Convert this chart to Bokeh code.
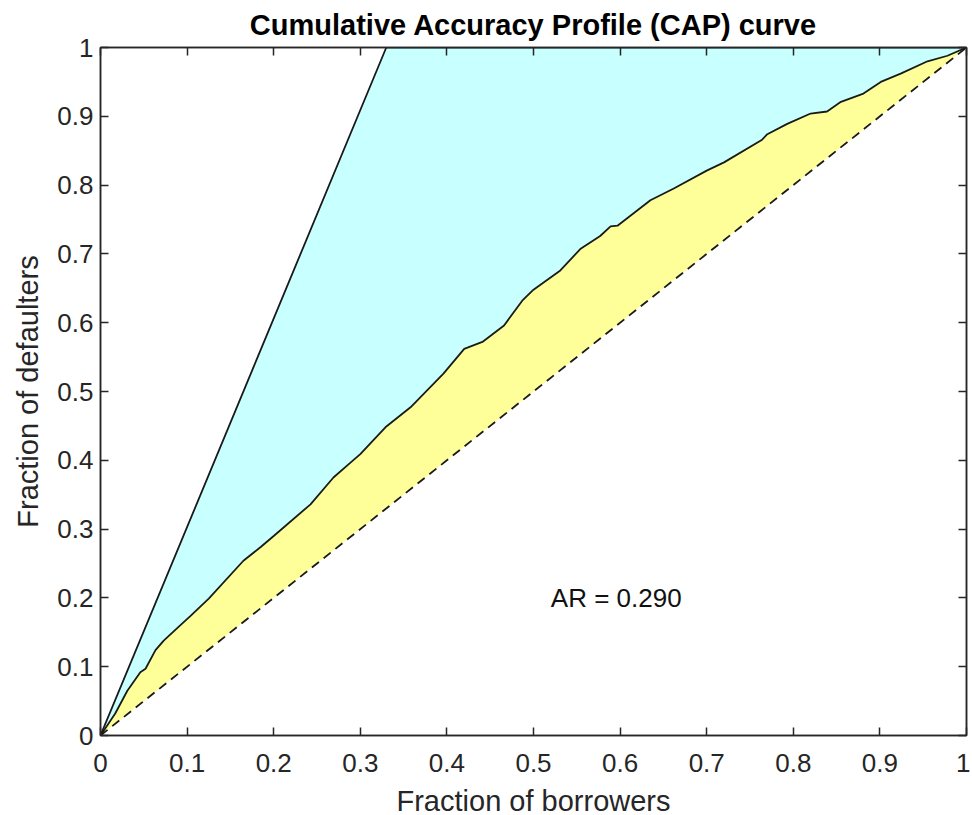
from bokeh.plotting import figure
from bokeh.models import LinearAxis, Range1d, Label, FixedTicker
from bokeh.embed import file_html
from bokeh.resources import INLINE

# ---- data ----
CAP_X = [0, 0.017, 0.031, 0.046, 0.052, 0.0635, 0.073, 0.092, 0.104, 0.125,
         0.165, 0.185, 0.2, 0.2425, 0.269, 0.289, 0.300, 0.329, 0.358, 0.396,
         0.420, 0.441, 0.466, 0.487, 0.50, 0.531, 0.554, 0.577, 0.589, 0.597,
         0.635, 0.662, 0.700, 0.720, 0.764, 0.770, 0.793, 0.820, 0.839, 0.855,
         0.881, 0.901, 0.924, 0.955, 0.978, 1.0]
CAP_Y = [0, 0.032, 0.065, 0.092, 0.097, 0.124, 0.138, 0.160, 0.174, 0.199,
         0.254, 0.274, 0.29, 0.336, 0.375, 0.397, 0.409, 0.448, 0.477, 0.526,
         0.562, 0.572, 0.596, 0.632, 0.648, 0.676, 0.707, 0.726, 0.740, 0.741,
         0.778, 0.795, 0.821, 0.833, 0.866, 0.874, 0.889, 0.904, 0.907, 0.921,
         0.933, 0.950, 0.962, 0.980, 0.988, 1.0]
PERFECT_X = [0, 0.33, 1]
PERFECT_Y = [0, 1, 1]
RANDOM_X = [0, 1]
RANDOM_Y = [0, 1]
TICKS = [0, 0.1, 0.2, 0.3, 0.4, 0.5, 0.6, 0.7, 0.8, 0.9, 1]
TICK_LABELS = ["0", "0.1", "0.2", "0.3", "0.4", "0.5", "0.6", "0.7", "0.8", "0.9", "1"]
AR_TEXT = "AR = 0.290"
AR_POS = (0.52, 0.2)

FONT = "Liberation Sans"
AX_COL = "#262626"

p = figure(frame_width=866, frame_height=688,
           x_range=Range1d(0, 1), y_range=Range1d(0, 1),
           output_backend="svg", toolbar_location=None,
           min_border_left=100, min_border_top=47, min_border_right=4,
           min_border_bottom=40,
           x_axis_label="Fraction of borrowers",
           y_axis_label="Fraction of defaulters")
p.background_fill_color = "white"
p.border_fill_color = "white"
p.grid.visible = False
p.outline_line_color = AX_COL
p.outline_line_width = 1.5

p.title.text = "Cumulative Accuracy Profile (CAP) curve"
p.title.align = "center"
p.title.vertical_align = "top"
p.title.text_font = FONT
p.title.text_font_size = "29px"
p.title.text_font_style = "bold"
p.title.text_color = "#000000"
p.title.standoff = 9

# filled regions
cyan_x = PERFECT_X + CAP_X[::-1]
cyan_y = PERFECT_Y + CAP_Y[::-1]
yel_x = CAP_X + RANDOM_X[::-1]
yel_y = CAP_Y + RANDOM_Y[::-1]
p.patch(cyan_x, cyan_y, fill_color="#C8FFFF", line_color=None)
p.patch(yel_x, yel_y, fill_color="#FFFF99", line_color=None)

# lines
p.line(PERFECT_X, PERFECT_Y, line_color="#1a1a1a", line_width=1.8)
p.line(CAP_X, CAP_Y, line_color="#1a1a1a", line_width=1.8)
p.line(RANDOM_X, RANDOM_Y, line_color="#1a1a1a", line_width=1.8, line_dash="9 6")

p.add_layout(Label(x=AR_POS[0], y=AR_POS[1], text=AR_TEXT, text_baseline="middle",
                   text_align="left", text_font=FONT, text_font_size="26px",
                   text_color="#111111"))

ticker = FixedTicker(ticks=TICKS)
overrides = dict(zip(TICKS, TICK_LABELS))


def style_axis(ax, labels=True):
    ax.ticker = ticker
    ax.major_tick_in = 8
    ax.major_tick_out = 0
    ax.minor_tick_line_color = None
    ax.axis_line_color = AX_COL
    ax.axis_line_width = 1.5
    ax.major_tick_line_color = AX_COL
    ax.major_tick_line_width = 1.5
    if labels:
        ax.major_label_overrides = overrides
        ax.major_label_text_font = FONT
        ax.major_label_text_font_size = "26px"
        ax.major_label_text_color = AX_COL
        ax.axis_label_text_font = FONT
        ax.axis_label_text_font_size = "29px"
        ax.axis_label_text_font_style = "normal"
        ax.axis_label_text_color = AX_COL
    else:
        ax.major_label_text_font_size = "0px"
        ax.major_label_text_alpha = 0


style_axis(p.xaxis[0])
style_axis(p.yaxis[0])
p.xaxis[0].major_label_standoff = 18
p.xaxis[0].axis_label_standoff = 10
p.yaxis[0].major_label_standoff = 7
p.yaxis[0].axis_label_standoff = 10

top = LinearAxis()
style_axis(top, labels=False)
right = LinearAxis()
style_axis(right, labels=False)
p.add_layout(top, "above")
p.add_layout(right, "right")

open("out.html", "w").write(file_html(p, INLINE))
